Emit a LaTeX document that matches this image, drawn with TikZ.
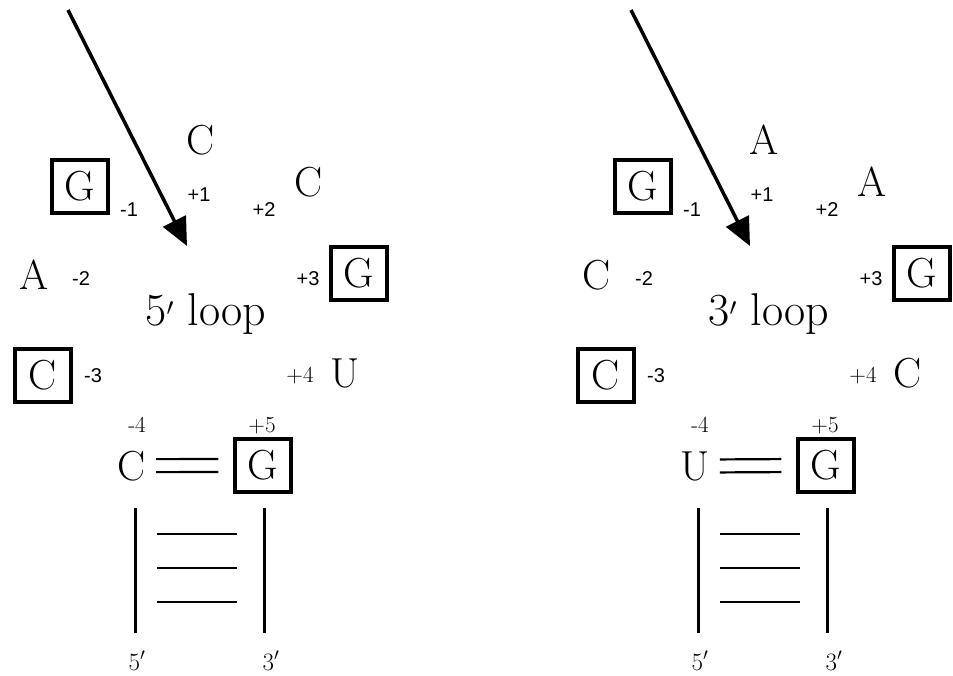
\documentclass[tikz,border=0pt]{standalone}
\usepackage{fontspec}
\newfontfamily\numfont{Liberation Sans}
\usetikzlibrary{arrows.meta}
\tikzset{
  base/.style={inner sep=0pt, font=\fontsize{42}{50}\selectfont},
  letter/.style={base, anchor=base},
  boxed/.style={base, draw, line width=3.5pt, minimum width=56pt, minimum height=53pt},
  num/.style={inner sep=0pt, anchor=base, font=\fontsize{23}{27}\selectfont},
  numsans/.style={num, font=\numfont\fontsize{20}{24}\selectfont},
  strand/.style={line width=3pt},
  rung/.style={line width=2.5pt},
  bondline/.style={line width=2.2pt, shorten <=10pt, shorten >=15pt},
  pointer/.style={line width=3.5pt, -{Triangle[length=28pt,width=25pt]}},
}
\begin{document}
\begin{tikzpicture}[x=1pt,y=-1pt]
\useasboundingbox (0,0) rectangle (953,676);
\foreach \dx/\ta/\tb/\tc/\td/\name/\te/\s in {0/C/C/A/U/5/C/l, 563/A/A/C/C/3/U/r}{
  \begin{scope}[xshift=\dx pt]
    \node[letter] (t1\s) at (201,155) {\ta};
    \node[letter] (t2\s) at (309,197) {\tb};
    \node[boxed]  (b1\s) at (80,186.5) {G};
    \node[letter] (b2\s) at (34,290) {\tc};
    \node[boxed]  (t3\s) at (359,273.5) {G};
    \node[boxed]  (b3\s) at (43,375.5) {C};
    \node[letter] (t4\s) at (345,387) {\td};
    \node[letter] (b4\s) at (132,480) {\te};
    \node[boxed]  (t5\s) at (263,465.5) {G};
    \node[numsans] (nb1\s) at (129,217) {-1};
    \node[numsans] (nt1\s) at (199,202) {+1};
    \node[numsans] (nt2\s) at (264,217) {+2};
    \node[numsans] (nb2\s) at (81,286) {-2};
    \node[numsans] (nt3\s) at (308,286) {+3};
    \node[numsans] (nb3\s) at (93,382) {-3};
    \node[num] (nt4\s) at (300,382) {+4};
    \node[num] (nb4\s) at (137,432) {-4};
    \node[num] (nt5\s) at (262,432) {+5};
    \node[letter, font=\fontsize{46}{54}\selectfont] (loop\s) at (206,325) {\name$'$ loop};
    \node[num, font=\fontsize{25}{29}\selectfont] (end5\s) at (137,670) {5$'$};
    \node[num, font=\fontsize{25}{29}\selectfont] (end3\s) at (271,670) {3$'$};
    \coordinate (from\s) at (68,10);
    \coordinate (tip\s) at (187,246);
    \draw[pointer] (from\s) -- (tip\s);
    \draw[bondline, transform canvas={yshift=6.5pt}] (b4\s.east) -- (t5\s.west);
    \draw[bondline, transform canvas={yshift=-6.5pt}] (b4\s.east) -- (t5\s.west);
    \coordinate (s5a\s) at (135,508);
    \coordinate (s5b\s) at (135,633);
    \coordinate (s3a\s) at (264,508);
    \coordinate (s3b\s) at (264,633);
    \draw[strand] (s5a\s) -- (s5b\s);
    \draw[strand] (s3a\s) -- (s3b\s);
    \foreach \y in {534,568,602}
      \draw[rung] (157,\y) -- (237,\y);
  \end{scope}
}
\end{tikzpicture}
\end{document}
